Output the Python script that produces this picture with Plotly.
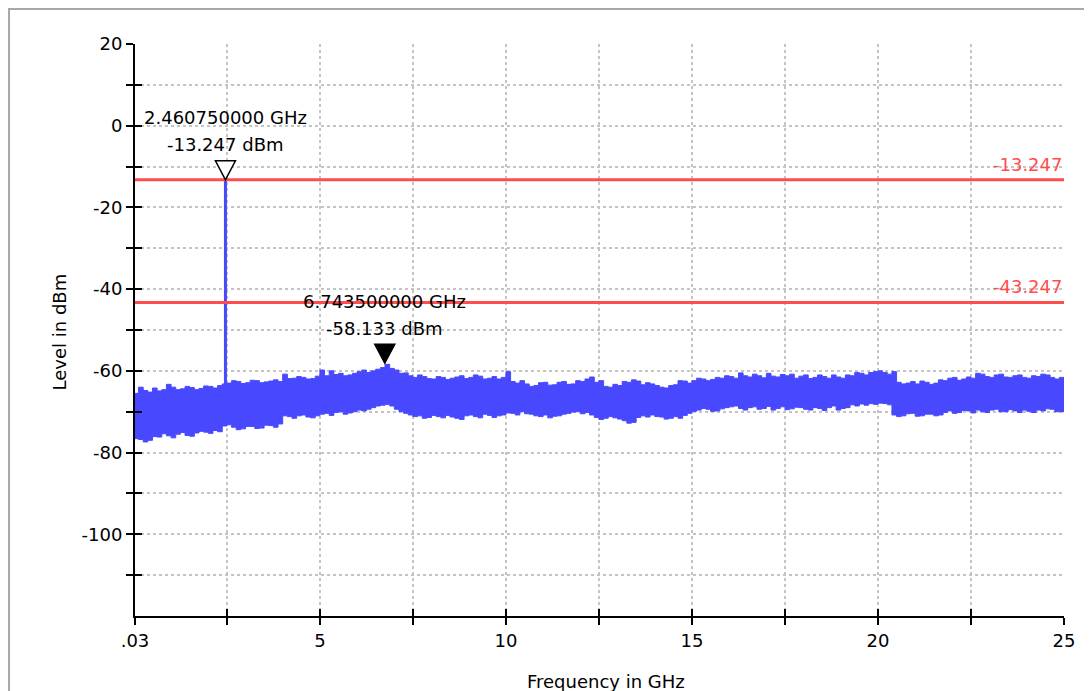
import plotly.graph_objects as go

# ---------------- data ----------------
freq_ghz = [0.03,
            0.125, 0.25, 0.375, 0.5, 0.625, 0.75, 0.875, 1.0,
            1.125, 1.25, 1.375, 1.5, 1.625, 1.75, 1.875, 2.0,
            2.125, 2.25, 2.375, 2.5, 2.625, 2.75, 2.875, 3.0,
            3.125, 3.25, 3.375, 3.5, 3.625, 3.75, 3.875, 4.0,
            4.125, 4.25, 4.375, 4.5, 4.625, 4.75, 4.875, 5.0,
            5.125, 5.25, 5.375, 5.5, 5.625, 5.75, 5.875, 6.0,
            6.125, 6.25, 6.375, 6.5, 6.625, 6.75, 6.875, 7.0,
            7.125, 7.25, 7.375, 7.5, 7.625, 7.75, 7.875, 8.0,
            8.125, 8.25, 8.375, 8.5, 8.625, 8.75, 8.875, 9.0,
            9.125, 9.25, 9.375, 9.5, 9.625, 9.75, 9.875, 10.0,
            10.125, 10.25, 10.375, 10.5, 10.625, 10.75, 10.875, 11.0,
            11.125, 11.25, 11.375, 11.5, 11.625, 11.75, 11.875, 12.0,
            12.125, 12.25, 12.375, 12.5, 12.625, 12.75, 12.875, 13.0,
            13.125, 13.25, 13.375, 13.5, 13.625, 13.75, 13.875, 14.0,
            14.125, 14.25, 14.375, 14.5, 14.625, 14.75, 14.875, 15.0,
            15.125, 15.25, 15.375, 15.5, 15.625, 15.75, 15.875, 16.0,
            16.125, 16.25, 16.375, 16.5, 16.625, 16.75, 16.875, 17.0,
            17.125, 17.25, 17.375, 17.5, 17.625, 17.75, 17.875, 18.0,
            18.125, 18.25, 18.375, 18.5, 18.625, 18.75, 18.875, 19.0,
            19.125, 19.25, 19.375, 19.5, 19.625, 19.75, 19.875, 20.0,
            20.125, 20.25, 20.375, 20.5, 20.625, 20.75, 20.875, 21.0,
            21.125, 21.25, 21.375, 21.5, 21.625, 21.75, 21.875, 22.0,
            22.125, 22.25, 22.375, 22.5, 22.625, 22.75, 22.875, 23.0,
            23.125, 23.25, 23.375, 23.5, 23.625, 23.75, 23.875, 24.0,
            24.125, 24.25, 24.375, 24.5, 24.625, 24.75, 24.875, 25.0]

noise_upper_dbm = [-65.5,
                   -64.0, -64.8, -65.2, -64.2, -64.9, -64.6, -63.3, -64.0,
                   -64.6, -64.4, -63.8, -64.1, -64.6, -64.3, -63.7, -63.8,
                   -64.2, -63.6, -63.2, -63.0, -62.4, -62.6, -63.1, -62.9,
                   -62.3, -62.4, -62.9, -62.7, -62.5, -62.2, -62.6, -60.8,
                   -61.9, -61.8, -61.4, -61.6, -62.0, -61.9, -61.3, -59.8,
                   -61.2, -60.0, -60.9, -60.6, -61.2, -61.0, -60.6, -60.2,
                   -59.8, -60.4, -60.0, -59.6, -59.2, -58.4, -59.4, -59.8,
                   -60.6, -60.5, -61.2, -61.6, -61.0, -61.4, -61.9, -62.0,
                   -61.4, -61.6, -62.1, -61.8, -61.5, -61.2, -61.9, -61.6,
                   -61.0, -61.3, -62.0, -61.8, -61.4, -62.0, -61.6, -60.2,
                   -62.6, -63.0, -62.4, -63.2, -63.8, -63.6, -62.9, -62.8,
                   -63.5, -63.4, -62.8, -62.6, -63.3, -63.2, -62.4, -62.6,
                   -62.0, -61.5, -62.8, -62.4, -63.8, -64.0, -63.3, -63.6,
                   -62.6, -62.8, -62.2, -62.5, -63.4, -62.9, -63.2, -63.6,
                   -64.0, -64.2, -63.6, -63.4, -62.4, -62.5, -63.0, -62.4,
                   -61.8, -62.0, -62.4, -62.1, -61.6, -61.8, -61.2, -61.4,
                   -61.8, -60.5, -61.2, -61.5, -60.8, -61.2, -61.7, -60.6,
                   -61.3, -61.5, -60.9, -61.2, -60.8, -61.8, -61.3, -61.0,
                   -61.9, -61.6, -61.0, -61.4, -61.8, -61.0, -61.5, -61.8,
                   -61.0, -61.2, -60.4, -60.6, -61.0, -60.4, -60.2, -60.0,
                   -60.4, -60.8, -60.2, -62.8, -63.2, -63.0, -62.6, -63.2,
                   -62.5, -62.8, -63.3, -63.0, -62.2, -62.4, -61.8, -61.6,
                   -62.3, -62.0, -61.5, -61.8, -60.6, -60.8, -61.4, -61.6,
                   -61.0, -60.8, -61.5, -61.6, -61.2, -61.0, -61.6, -61.8,
                   -61.2, -61.4, -60.8, -61.0, -61.6, -62.0, -61.6, -62.5]

noise_lower_dbm = [-76.0,
                   -76.6, -76.8, -77.4, -77.0, -76.1, -76.2, -75.4, -75.9,
                   -76.4, -75.5, -75.1, -75.8, -76.0, -75.2, -74.8, -75.0,
                   -75.3, -74.6, -74.9, -73.5, -73.2, -73.8, -74.4, -74.2,
                   -73.6, -73.6, -74.1, -74.0, -73.3, -73.4, -73.8, -73.0,
                   -71.0, -71.2, -71.6, -71.0, -70.8, -71.3, -71.5, -71.0,
                   -70.6, -70.4, -70.9, -70.2, -70.0, -70.6, -70.3, -70.0,
                   -69.6, -69.8, -69.4, -69.0, -68.6, -68.4, -68.2, -68.6,
                   -69.4, -70.0, -70.4, -70.8, -71.2, -71.0, -71.6, -71.4,
                   -70.9, -71.2, -71.5, -70.9, -71.3, -71.6, -71.9, -71.0,
                   -70.8, -71.2, -71.5, -70.6, -70.9, -71.4, -71.0, -70.8,
                   -70.3, -70.4, -70.8, -70.0, -70.5, -70.6, -71.0, -71.2,
                   -70.8, -71.5, -71.1, -71.0, -70.6, -70.4, -70.1, -70.0,
                   -70.5, -70.2, -70.8, -71.4, -71.9, -71.6, -71.2, -71.5,
                   -71.8, -72.2, -72.8, -72.6, -71.4, -71.0, -71.3, -70.8,
                   -71.2, -71.3, -71.8, -71.6, -71.2, -71.6, -70.9, -70.4,
                   -69.9, -69.6, -69.2, -69.4, -69.9, -69.8, -69.3, -69.0,
                   -68.8, -68.6, -69.2, -69.6, -69.0, -68.8, -69.4, -69.2,
                   -68.7, -69.6, -69.2, -68.8, -69.5, -69.3, -68.9, -69.0,
                   -69.4, -69.6, -69.0, -69.2, -69.7, -69.0, -68.6, -69.6,
                   -69.2, -69.0, -68.3, -68.6, -68.1, -68.4, -68.0, -68.2,
                   -67.9, -68.0, -68.3, -70.8, -71.2, -71.0, -70.5, -70.4,
                   -71.1, -71.0, -70.6, -70.6, -71.0, -70.8, -70.2, -69.8,
                   -70.4, -70.2, -69.7, -69.8, -70.3, -69.6, -70.0, -70.2,
                   -69.6, -69.4, -70.0, -70.0, -69.5, -69.8, -70.2, -69.6,
                   -69.9, -70.2, -69.6, -69.8, -69.3, -69.4, -70.0, -70.0]

peak_freq_ghz = 2.46075
peak_base_dbm = -72.0
peak_level_dbm = -13.247

marker_freq_ghz = [2.46075, 6.7435]
marker_level_dbm = [-13.247, -58.133]
marker_filled = [False, True]

display_lines_dbm = [-13.247, -43.247]

x_tick_vals = [0.03, 2.5, 5, 7.5, 10, 12.5, 15, 17.5, 20, 22.5, 25]
x_tick_text = [".03", "", "5", "", "10", "", "15", "", "20", "", "25"]
y_tick_vals = [20, 10, 0, -10, -20, -30, -40, -50, -60, -70, -80, -90, -100, -110]
y_tick_text = ["20", "", "0", "", "-20", "", "-40", "", "-60", "", "-80", "", "-100", ""]

x_range = [0.03, 25]
y_range = [-120, 20]

# ---------------- styling ----------------
BLUE = "#4848ff"
RED = "#ff4d4d"
FONT = "DejaVu Sans"
FS = 18

fig = go.Figure()

# noise floor band
fig.add_trace(go.Scatter(
    x=freq_ghz + freq_ghz[::-1],
    y=noise_upper_dbm + noise_lower_dbm[::-1],
    mode="lines", line=dict(color=BLUE, width=1, shape="hv"),
    fill="toself", fillcolor=BLUE, hoverinfo="skip", showlegend=False))

# carrier spike
fig.add_trace(go.Scatter(
    x=[peak_freq_ghz, peak_freq_ghz], y=[peak_base_dbm, peak_level_dbm],
    mode="lines", line=dict(color=BLUE, width=3), showlegend=False))

# empty trace registering the overlay axes (gives ticks crossing the axis lines)
fig.add_trace(go.Scatter(x=[], y=[], xaxis="x2", yaxis="y2", showlegend=False))

shapes = []
annotations = []

# display lines
for lvl in display_lines_dbm:
    shapes.append(dict(type="line", xref="x", yref="y", x0=x_range[0], x1=x_range[1],
                       y0=lvl, y1=lvl, line=dict(color=RED, width=3)))
    annotations.append(dict(x=x_range[1], y=lvl, xref="x", yref="y", text=f"{lvl:.3f}",
                            showarrow=False, xanchor="right", yanchor="bottom", yshift=3,
                            font=dict(family=FONT, size=FS, color=RED)))

# markers
for f, lvl, filled in zip(marker_freq_ghz, marker_level_dbm, marker_filled):
    shapes.append(dict(type="path", xref="x", yref="y", xsizemode="pixel", ysizemode="pixel",
                       xanchor=f, yanchor=lvl, path="M -10,19 L 10,19 L 0,0 Z",
                       fillcolor="black" if filled else "white",
                       line=dict(color="black", width=1.5)))
    annotations.append(dict(x=f, y=lvl, xref="x", yref="y", text=f"{f:.9f} GHz",
                            showarrow=False, xanchor="center", yanchor="middle", yshift=62,
                            font=dict(family=FONT, size=FS, color="black")))
    annotations.append(dict(x=f, y=lvl, xref="x", yref="y", text=f"{lvl:.3f} dBm",
                            showarrow=False, xanchor="center", yanchor="middle", yshift=35,
                            font=dict(family=FONT, size=FS, color="black")))

# axis titles
annotations.append(dict(x=-0.081, y=0.497, xref="paper", yref="paper", text="Level in dBm",
                        textangle=-90, showarrow=False, xanchor="center", yanchor="middle",
                        font=dict(family=FONT, size=FS, color="black")))
annotations.append(dict(x=0.507, y=-0.115, xref="paper", yref="paper", text="Frequency in GHz",
                        showarrow=False, xanchor="center", yanchor="middle",
                        font=dict(family=FONT, size=FS, color="black")))

# outer frame (top and left edges visible)
shapes.append(dict(type="rect", xref="paper", yref="paper", x0=-0.1356, x1=1.06, y0=-0.2, y1=1.0612,
                   line=dict(color="#a8a8a8", width=2), fillcolor="rgba(0,0,0,0)", layer="below"))

axis_common = dict(showline=True, linecolor="black", linewidth=2, ticks="outside", ticklen=7,
                   tickwidth=2, tickcolor="black", zeroline=False, mirror=False,
                   tickfont=dict(family=FONT, size=FS, color="black"),
                   gridcolor="#c4c4c4", gridwidth=1.5, griddash="dot", showgrid=True)

fig.update_layout(
    width=1084, height=683,
    margin=dict(l=127, r=28, t=36, b=75),
    paper_bgcolor="white", plot_bgcolor="white",
    showlegend=False,
    shapes=shapes, annotations=annotations,
    xaxis=dict(range=x_range, tickmode="array", tickvals=x_tick_vals, ticktext=x_tick_text, **axis_common),
    yaxis=dict(range=y_range, tickmode="array", tickvals=y_tick_vals, ticktext=y_tick_text, **axis_common),
    xaxis2=dict(range=x_range, overlaying="x", anchor="y2", tickmode="array", tickvals=x_tick_vals,
                showticklabels=False, ticks="inside", ticklen=7, tickwidth=2, tickcolor="black",
                showgrid=False, zeroline=False, showline=False),
    yaxis2=dict(range=y_range, overlaying="y", anchor="x2", tickmode="array", tickvals=y_tick_vals,
                showticklabels=False, ticks="inside", ticklen=7, tickwidth=2, tickcolor="black",
                showgrid=False, zeroline=False, showline=False),
)

fig.write_html("out.html")
